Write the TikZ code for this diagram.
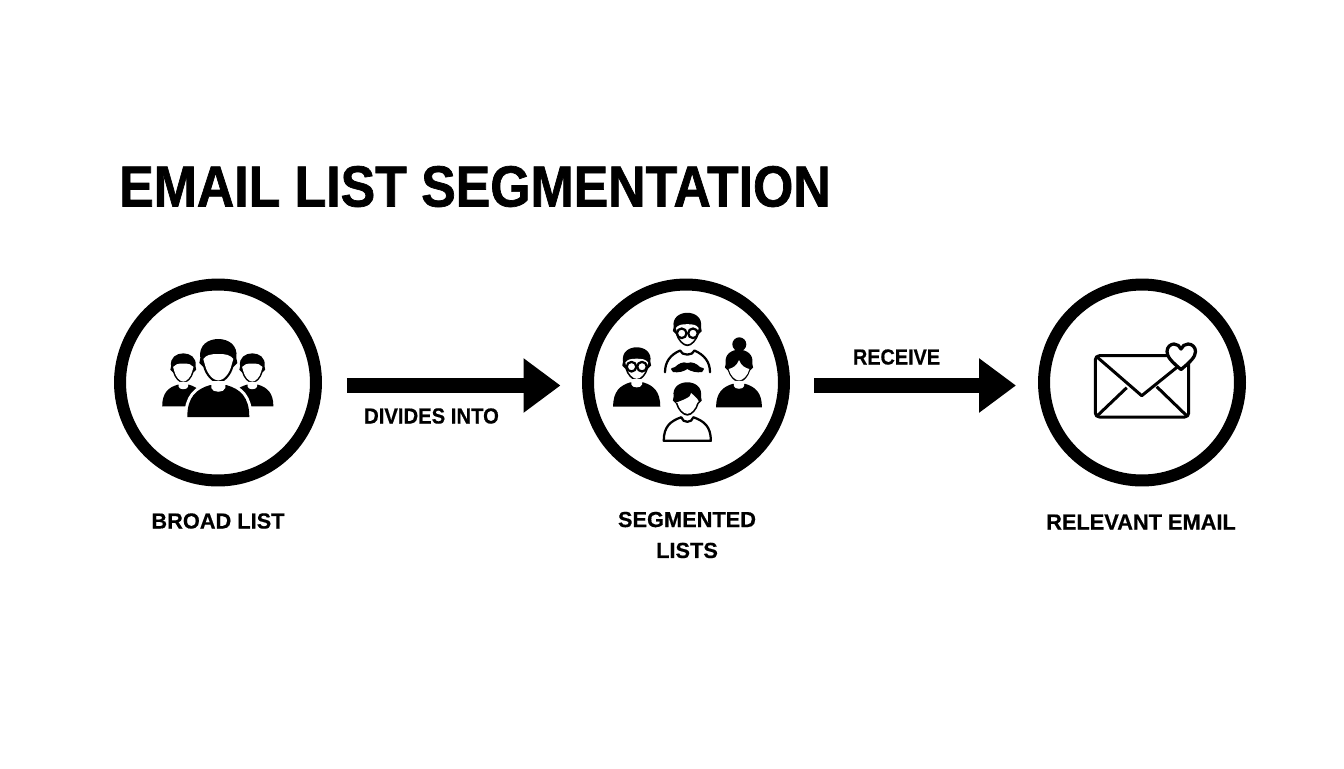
\documentclass[tikz,border=0pt]{standalone}
\usepackage{fontspec}
\setmainfont{Liberation Sans}[BoldFeatures={FakeBold=.5}]
\newfontfamily\titlefont[FakeStretch=0.893,BoldFeatures={FakeBold=1.2}]{Liberation Sans}
\usetikzlibrary{arrows.meta,positioning}
\tikzset{
  ringnode/.style={circle,draw,line width=.24cm,minimum size=3.92cm},
  steplabel/.style={font=\fontsize{12.4}{17.6}\selectfont\bfseries,align=center},
  bigarrow/.style={line width=.31cm,-{Triangle[length=.74cm,width=1.04cm]}},
  iconline/.style={line width=.045cm,fill=white,line cap=round,line join=round},
}
% head and body of one person, drawn round the centre of the head
\newcommand{\headblob}{(-18,-3) .. controls (-20,-16) and (-10,-22) .. (0,-22) .. controls (10,-22) and (20,-16) .. (18,-3) -- (19,2) -- (15,6) .. controls (13,14) and (6,22) .. (0,22) .. controls (-6,22) and (-13,14) .. (-15,6) -- (-19,2) -- cycle}
\newcommand{\facepath}{(-15,-2) .. controls (-12,-6) and (-8,-7) .. (0,-7) .. controls (8,-7) and (12,-6) .. (15,-2) -- (13,5) .. controls (11,13) and (5,19.5) .. (0,19.5) .. controls (-5,19.5) and (-11,13) .. (-13,5) -- cycle}
\newcommand{\bodypath}{(-31,56) .. controls (-31,36) and (-22,28) .. (-8,24) -- (8,24) .. controls (22,28) and (31,36) .. (31,56) -- cycle}
\newcommand{\neckpath}{(-7,20) -- (-7,27) .. controls (-6,32) and (6,32) .. (7,27) -- (7,20) -- cycle}
\begin{document}
\begin{tikzpicture}[x=.02cm,y=-.02cm]
    \useasboundingbox (0,0) rectangle (1344,768);
    \node[anchor=base west,font=\titlefont\fontsize{33}{40}\selectfont\bfseries] (title) at (113,206.5) {EMAIL LIST SEGMENTATION};

    \node[ringnode] (broad) at (218,382.5) {};
    \node[ringnode] (segmented) at (686,382.5) {};
    \node[ringnode] (relevant) at (1142,382.5) {};

    \draw[bigarrow,shorten <=.5cm,shorten >=.43cm] ([yshift=-.06cm]broad.east) -- ([yshift=-.06cm]segmented.west);
    \draw[bigarrow,shorten <=.49cm,shorten >=.44cm] ([yshift=-.06cm]segmented.east) -- ([yshift=-.06cm]relevant.west);

    \node[steplabel,xscale=.93] (divides) at (431.5,416) {DIVIDES INTO};
    \node[steplabel,xscale=.91] (receive) at (896.5,357) {RECEIVE};
    \node[steplabel] (broadlabel) at (218,521) {BROAD LIST};
    \node[steplabel] (segmentedlabel) at (687,535) {SEGMENTED\\LISTS};
    \node[steplabel] (relevantlabel) at (1141,522) {RELEVANT EMAIL};

    % broad list
    \foreach \px in {183.3,252.3}{
      \begin{scope}[shift={(\px,368.3)},scale=.68]
        \fill \bodypath;
        \fill \headblob;
        \fill[white] \facepath;
        \fill[white] \neckpath;
      \end{scope}
    }
    \begin{scope}[shift={(218.3,361)}]
      \draw[white,line width=.12cm] \bodypath;
      \fill \bodypath;
      \fill \headblob;
      \fill[white] \facepath;
      \fill[white] \neckpath;
    \end{scope}

    % segmented lists, left
    \begin{scope}[shift={(636.7,364)},scale=.76]
      \fill \bodypath;
      \fill \headblob;
      \fill[white] \facepath;
      \fill[white] \neckpath;
    \end{scope}
    \draw[iconline] (631.5,366.7) circle (4.8);
    \draw[iconline] (642,366.7) circle (4.8);
    % top
    \begin{scope}[shift={(687.3,329.5)},scale=.76]
      \fill \headblob;
      \fill[white] \facepath;
    \end{scope}
    \draw[iconline] (681.7,333.3) circle (4.8);
    \draw[iconline] (693,333.3) circle (4.8);
    \draw[iconline,fill=none] (665,372.3) .. controls (665,362) and (670,355) .. (680,350.5) .. controls (682,356) and (692.5,356) .. (694.5,350.5) .. controls (704.5,355) and (710,362) .. (710,372.3);
    \fill (687.3,363) .. controls (683,361) and (678,364) .. (675,367) .. controls (672,368.5) and (669,367) .. (673,372) .. controls (678,373) and (684,371.5) .. (687.3,369) .. controls (691,371.5) and (697,373) .. (702,372) .. controls (706,367) and (703,368.5) .. (700,367) .. controls (697,364) and (692,361) .. (687.3,363) -- cycle;
    % right
    \fill (739.3,344.3) circle (7);
    \begin{scope}[shift={(739,366)},scale=.74]
      \fill \bodypath;
      \fill \headblob;
      \fill[white] (0,-8) .. controls (3,0) and (9,3) .. (14,4) .. controls (12,13) and (5,19.5) .. (0,19.5) .. controls (-5,19.5) and (-12,13) .. (-14,4) .. controls (-9,3) and (-3,0) .. (0,-8) -- cycle;
      \fill[white] \neckpath;
    \end{scope}
    % bottom
    \begin{scope}[shift={(687.3,399)},scale=.76]
      \draw[line width=.045cm,fill=white,line join=round] (-31,55) .. controls (-31,36) and (-22,29) .. (-8,24) .. controls (-6,32) and (6,32) .. (8,24) .. controls (22,29) and (31,36) .. (31,55) -- cycle;
      \fill \headblob;
      \fill[white] (-15,5) .. controls (-8,2) and (6,-2) .. (5,-8) .. controls (8,-4) and (13,-2) .. (15,3) -- (13,5) .. controls (11,13) and (5,19.5) .. (0,19.5) .. controls (-5,19.5) and (-11,13) .. (-13,5) -- cycle;
    \end{scope}

    % relevant email
    \draw[line width=.06cm,rounded corners=.08cm,line join=round] (1095.3,355.7) rectangle (1188.7,417);
    \draw[line width=.06cm,line join=round] (1097,357) -- (1141.7,395.7) -- (1181,364);
    \draw[line width=.06cm] (1097,416) -- (1126.7,387.7);
    \draw[line width=.06cm] (1187,416) -- (1156.7,386.7);
    \draw[line width=.065cm,fill=white,line join=round] (1181,369.5) .. controls (1172,362) and (1167,357) .. (1167,351.5) .. controls (1167,346.5) and (1171,344) .. (1174,344) .. controls (1177,344) and (1180,346) .. (1181,349) .. controls (1182,346) and (1185,344) .. (1188,344) .. controls (1192,344) and (1195.5,347) .. (1195.5,351.5) .. controls (1195.5,357) and (1190,362) .. (1181,369.5) -- cycle;
\end{tikzpicture}
\end{document}
